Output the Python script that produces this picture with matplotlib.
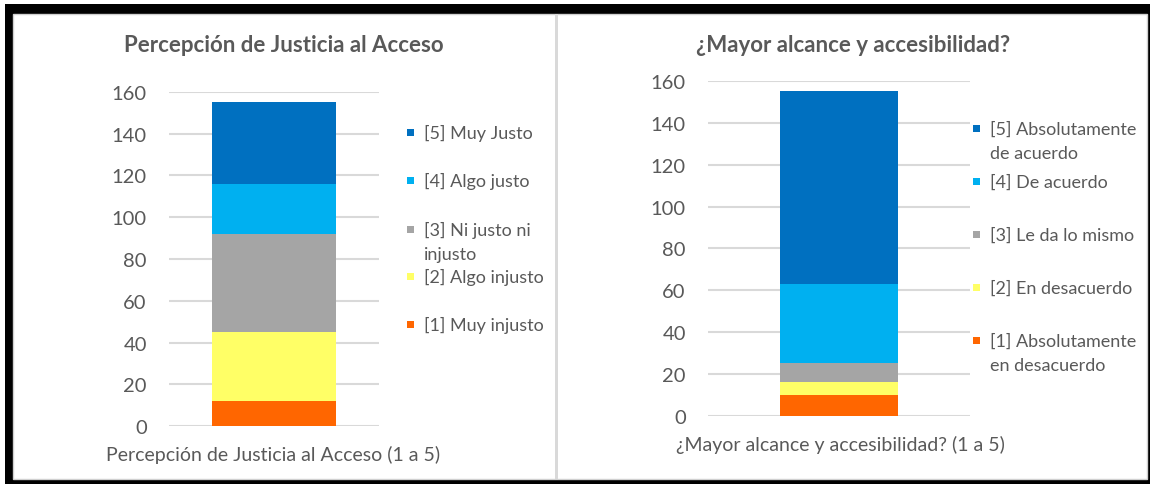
import matplotlib.pyplot as plt
from matplotlib.patches import Rectangle

plt.rcParams['font.family'] = ['Lato', 'DejaVu Sans']

# data
left_title = 'Percepción de Justicia al Acceso'
left_xlabel = 'Percepción de Justicia al Acceso (1 a 5)'
left_labels = ['[1] Muy injusto', '[2] Algo injusto', '[3] Ni justo ni\ninjusto',
               '[4] Algo justo', '[5] Muy Justo']
left_values = [12, 33, 47, 24, 39]

right_title = '¿Mayor alcance y accesibilidad?'
right_xlabel = '¿Mayor alcance y accesibilidad? (1 a 5)'
right_labels = ['[1] Absolutamente\nen desacuerdo', '[2] En desacuerdo',
                '[3] Le da lo mismo', '[4] De acuerdo', '[5] Absolutamente\nde acuerdo']
right_values = [10, 6, 9, 38, 92]

colors = ['#FF6600', '#FFFF66', '#A5A5A5', '#00B0F0', '#0070C0']
yticks = [0, 20, 40, 60, 80, 100, 120, 140, 160]

TXT = '#595959'
W, H = 1150, 485


def fx(x):
    return x / W


def fy(y):
    return 1 - y / H


fig = plt.figure(figsize=(W / 100, H / 100), dpi=100)

# frame around both charts
fig.patches.append(Rectangle((fx(5), 0), fx(1150) - fx(5), fy(5), transform=fig.transFigure,
                             facecolor='black', edgecolor='none', zorder=-3))
fig.patches.append(Rectangle((fx(13), fy(480)), fx(1147) - fx(13), fy(15) - fy(480),
                             transform=fig.transFigure, facecolor='white',
                             edgecolor='#d0d0d0', linewidth=1, zorder=-2))
fig.patches.append(Rectangle((fx(555), fy(480)), fx(3), fy(15) - fy(480),
                             transform=fig.transFigure, facecolor='#d9d9d9',
                             edgecolor='none', zorder=-1))


def draw_chart(rect, values, labels, title, xlabel, bar_w, title_xy, xlabel_xy,
               leg_x, leg_ys):
    ax = fig.add_axes(rect)
    bottom = 0
    for v, c in zip(values, colors):
        ax.bar(0, v, width=bar_w, bottom=bottom, color=c, zorder=2)
        bottom += v
    ax.set_xlim(-0.5, 0.5)
    ax.set_ylim(0, 160)
    ax.set_yticks(yticks)
    ax.set_xticks([])
    ax.tick_params(axis='y', length=0, pad=16, labelsize=14.5, labelcolor=TXT)
    ax.grid(axis='y', color='#d9d9d9', linewidth=1.5, zorder=0)
    for s in ax.spines.values():
        s.set_visible(False)
    ax.set_facecolor('none')

    fig.text(fx(title_xy[0]), fy(title_xy[1]), title, ha='center', va='center',
             fontsize=16, fontweight='bold', color=TXT)
    fig.text(fx(xlabel_xy[0]), fy(xlabel_xy[1]), xlabel, ha='center', va='center',
             fontsize=14, color=TXT)

    # legend, top entry first as in Excel
    for lab, c, y0 in zip(labels[::-1], colors[::-1], leg_ys):
        fig.patches.append(Rectangle((fx(leg_x), fy(y0 + 3.5)), fx(7), fy(0) - fy(7),
                                     transform=fig.transFigure, facecolor=c,
                                     edgecolor='none'))
        for i, line in enumerate(lab.split('\n')):
            fig.text(fx(leg_x + 17), fy(y0 + 24 * i + 6), line, ha='left',
                     va='baseline', fontsize=13, color=TXT)
    return ax


draw_chart([fx(169), fy(427.3), fx(210), 334.6 / H], left_values, left_labels,
           left_title, left_xlabel, 0.59, (284, 45), (273, 455),
           407, [133, 181, 230, 277, 325])
draw_chart([fx(708), fy(416.7), fx(262), 334.7 / H], right_values, right_labels,
           right_title, right_xlabel, 0.447, (853, 45), (840, 445),
           973, [129, 182, 235, 288, 341])

fig.savefig('out.png', dpi=100, facecolor='white')
